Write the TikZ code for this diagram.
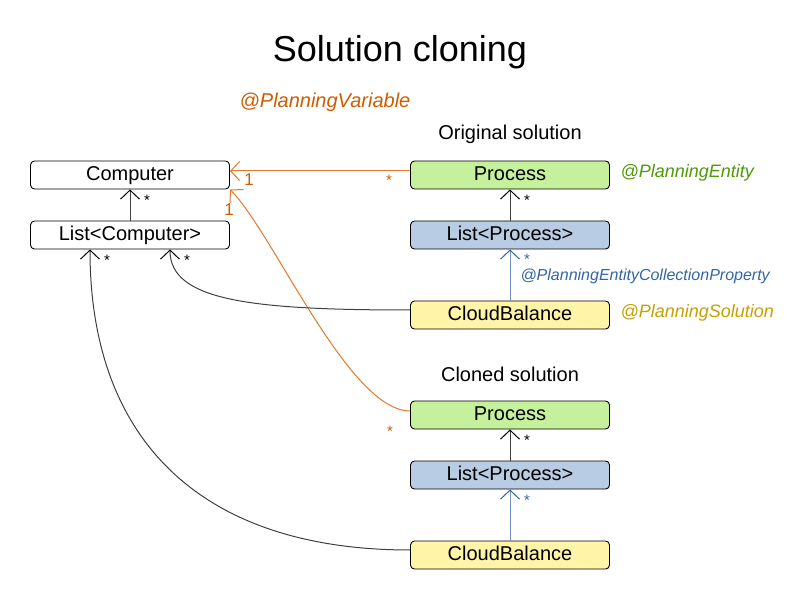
\documentclass[tikz,border=0pt]{standalone}
\usepackage{fontspec}
\setmainfont{Liberation Sans}
\usetikzlibrary{arrows.meta,positioning}
\definecolor{plorange}{HTML}{CE5C00}
\definecolor{orangeline}{HTML}{E3782A}
\definecolor{plgreen}{HTML}{4E9A06}
\definecolor{plgold}{HTML}{C4A000}
\definecolor{plblue}{HTML}{3465A4}
\definecolor{blueline}{HTML}{6F8FC0}
\definecolor{greenfill}{HTML}{C5F09C}
\definecolor{bluefill}{HTML}{B8CCE4}
\definecolor{yellowfill}{HTML}{FFF4A8}

\begin{document}
\begin{tikzpicture}[x=1pt,y=1pt,>={Straight Barb[length=9pt,width=19pt,color=black]},line width=1pt,auto,node distance=60pt,
    box/.style={draw=black,line width=0.9pt,rounded corners=4pt,minimum width=199pt,minimum height=28pt,inner sep=0pt,
      text height=14.5pt,text depth=4pt,font=\fontsize{20}{23}\selectfont},
    entity/.style={box,fill=greenfill},
    list/.style={box,fill=bluefill},
    solution/.style={box,fill=yellowfill},
    link/.style={->,draw=black!75},
    varlink/.style={->,draw=orangeline,>={Straight Barb[length=9pt,width=19pt,color=orangeline]}},
    collink/.style={->,draw=blueline,>={Straight Barb[length=9pt,width=19pt,color=plblue]}},
    note/.style={font=\fontsize{18}{21}\selectfont\itshape,anchor=west,inner sep=1pt},
    mult/.style={font=\fontsize{15}{17}\selectfont,inner sep=0pt}]
  \useasboundingbox (0,0) rectangle (800,600);
  \node (T) at (400,548) {\fontsize{36}{40}\selectfont Solution cloning};
  \node (PV) [note,font=\fontsize{20}{23}\selectfont\itshape,anchor=center,text=plorange] at (325,498) {@PlanningVariable};
  \node (O) at (510,466) {\fontsize{20}{23}\selectfont Original solution};
  \node (K) at (510,226) {\fontsize{20}{23}\selectfont Cloned solution};

  \node (C) [box] at (130,425) {Computer};
  \node (LC) [box,below of=C] {List<Computer>};
  \node (P) [entity] at (510,425) {Process};
  \node (LP) [list,below of=P] {List<Process>};
  \node (CB) [solution,below of=LP,node distance=80pt] {CloudBalance};
  \node (P2) [entity,below of=CB,node distance=100pt] {Process};
  \node (LP2) [list,below of=P2] {List<Process>};
  \node (CB2) [solution,below of=LP2,node distance=80pt] {CloudBalance};

  \node (PE) [note,text=plgreen] at (619,427) {@PlanningEntity};
  \node (PS) [note,text=plgold] at (619,287) {@PlanningSolution};
  \node (PC) [note,font=\fontsize{16}{19}\selectfont\itshape,text=plblue] at (519,324) {@PlanningEntityCollectionProperty};

  \path (LC) edge[link] (C)
    (LP) edge[link] (P)
    (LP2) edge[link] (P2)
    (CB) edge[collink] (LP)
    (CB2) edge[collink] (LP2)
    ([yshift=4pt]P.west) edge[varlink] ([yshift=4pt]C.east)
    ([yshift=4pt]P2.west) edge[varlink,out=180,in=-45,looseness=0.55] (C.south east)
    ([yshift=5pt]CB.west) edge[link,out=180,in=-90,out distance=160pt,in distance=51pt] ([xshift=40pt]LC.south)
    ([yshift=5pt]CB2.west) edge[link,out=180,in=-90,out distance=210pt,in distance=190pt] ([xshift=-40pt]LC.south);

  \node (m1) [mult] at (147,400) {*};
  \node (m2) [mult] at (107,340) {*};
  \node (m3) [mult] at (187,340) {*};
  \node (m4) [mult] at (527,400) {*};
  \node (m5) [mult] at (527,160) {*};
  \node (m6) [mult,text=plblue] at (527,341) {*};
  \node (m7) [mult,text=plblue] at (527,100) {*};
  \node (m8) [mult,text=plorange] at (389,420) {*};
  \node (m9) [mult,text=plorange] at (390,169) {*};
  \node (n1) [mult,font=\fontsize{17}{19}\selectfont,text=plorange] at (249,420) {1};
  \node (n2) [mult,font=\fontsize{17}{19}\selectfont,text=plorange] at (229,390) {1};
\end{tikzpicture}
\end{document}
